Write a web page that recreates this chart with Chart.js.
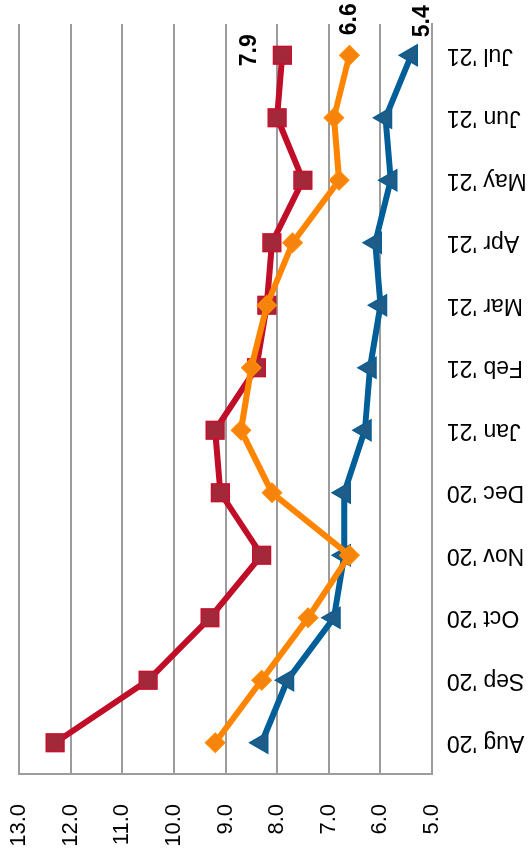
<!DOCTYPE html>
<html>
<head>
<meta charset="utf-8">
<title>Monthly rates</title>
<script src="https://cdn.jsdelivr.net/npm/chart.js@4.4.1/dist/chart.umd.min.js"></script>
<style>
    html, body { margin: 0; padding: 0; background: #fff; overflow: hidden; }
    /* chart is laid out landscape, then turned a quarter turn counter-clockwise */
    #wrap {
        position: absolute;
        left: 0;
        top: 0;
        width: 856px;
        height: 529px;
        transform-origin: 0 0;
        transform: translate(0, 856px) rotate(-90deg);
    }
</style>
</head>
<body>
<div id="wrap"><canvas id="rateChart" width="856" height="529"></canvas></div>
<script>
// Data
const months = ["Aug '20", "Sep '20", "Oct '20", "Nov '20", "Dec '20", "Jan '21",
                "Feb '21", "Mar '21", "Apr '21", "May '21", "Jun '21", "Jul '21"];
const redValues = [12.3, 10.5, 9.3, 8.3, 9.1, 9.2, 8.4, 8.2, 8.1, 7.5, 8.0, 7.9];
const orangeValues = [9.2, 8.3, 7.4, 6.6, 8.1, 8.7, 8.5, 8.2, 7.7, 6.8, 6.9, 6.6];
const blueValues = [8.3, 7.8, 6.9, 6.7, 6.7, 6.3, 6.2, 6.0, 6.1, 5.8, 5.9, 5.4];
const valueTicks = [5.0, 6.0, 7.0, 8.0, 9.0, 10.0, 11.0, 12.0, 13.0];

const gridGray = "#9c9c9c";
Chart.defaults.font.family = '"Liberation Sans", Arial, sans-serif';
Chart.defaults.color = "#000";

// Writes the latest value next to the last point of each line
const lastValueLabels = {
    id: "lastValueLabels",
    afterDatasetsDraw(chart) {
        const ctx = chart.ctx;
        ctx.save();
        ctx.font = 'bold 23px "Liberation Sans", Arial, sans-serif';
        ctx.fillStyle = "#000";
        ctx.textAlign = "center";
        ctx.textBaseline = "middle";
        chart.data.datasets.forEach((ds, i) => {
            const pts = chart.getDatasetMeta(i).data;
            const last = pts[pts.length - 1];
            const value = ds.data[ds.data.length - 1];
            const off = ds.labelOffset;
            ctx.fillText(value.toFixed(1), last.x + off.x, last.y + off.y);
        });
        ctx.restore();
    }
};

const ctx = document.getElementById("rateChart").getContext("2d");

new Chart(ctx, {
    type: "line",
    data: {
        labels: months,
        datasets: [
            {
                data: orangeValues,
                borderColor: "#ff8500",
                borderWidth: 6,
                pointStyle: "rectRot",
                pointRadius: 9.5,
                pointBackgroundColor: "#f5830c",
                pointBorderColor: "#ff8a00",
                pointBorderWidth: 1.5,
                labelOffset: { x: 36, y: 0 }
            },
            {
                data: redValues,
                borderColor: "#c00d28",
                borderWidth: 6,
                pointStyle: "rect",
                pointRadius: 12.5,
                pointBackgroundColor: "#a3283a",
                pointBorderColor: "#c8102e",
                pointBorderWidth: 1.5,
                labelOffset: { x: 5, y: -33 }
            },
            {
                data: blueValues,
                borderColor: "#005e98",
                borderWidth: 6,
                pointStyle: "triangle",
                pointRadius: 12,
                pointBackgroundColor: "#1f5c88",
                pointBorderColor: "#0a5e94",
                pointBorderWidth: 1.5,
                labelOffset: { x: 34, y: 11 }
            }
        ]
    },
    options: {
        responsive: false,
        animation: false,
        layout: {
            autoPadding: false,
            padding: { top: 19, right: 24, left: 0, bottom: 0 }
        },
        elements: { line: { tension: 0 } },
        plugins: {
            legend: { display: false },
            tooltip: { enabled: false }
        },
        scales: {
            x: {
                offset: true,
                grid: { display: false },
                border: { display: true, color: gridGray, width: 2 },
                ticks: {
                    autoSkip: false,
                    minRotation: 90,
                    maxRotation: 90,
                    padding: 7,
                    font: { size: 23 }
                },
                afterFit: (scale) => { scale.height = 97; }
            },
            y: {
                min: valueTicks[0],
                max: valueTicks[valueTicks.length - 1],
                afterBuildTicks: (scale) => {
                    scale.ticks = valueTicks.map(v => ({ value: v }));
                },
                grid: { color: gridGray, lineWidth: 2, drawTicks: false },
                border: { display: true, color: gridGray, width: 2 },
                ticks: {
                    padding: 30,
                    font: { size: 22 },
                    callback: (v) => Number(v).toFixed(1)
                },
                // keep the plot top fixed instead of reserving room for the top label
                afterFit: (scale) => {
                    scale.width = 82;
                    scale.paddingTop = 0;
                }
            }
        }
    },
    plugins: [lastValueLabels]
});
</script>
</body>
</html>
